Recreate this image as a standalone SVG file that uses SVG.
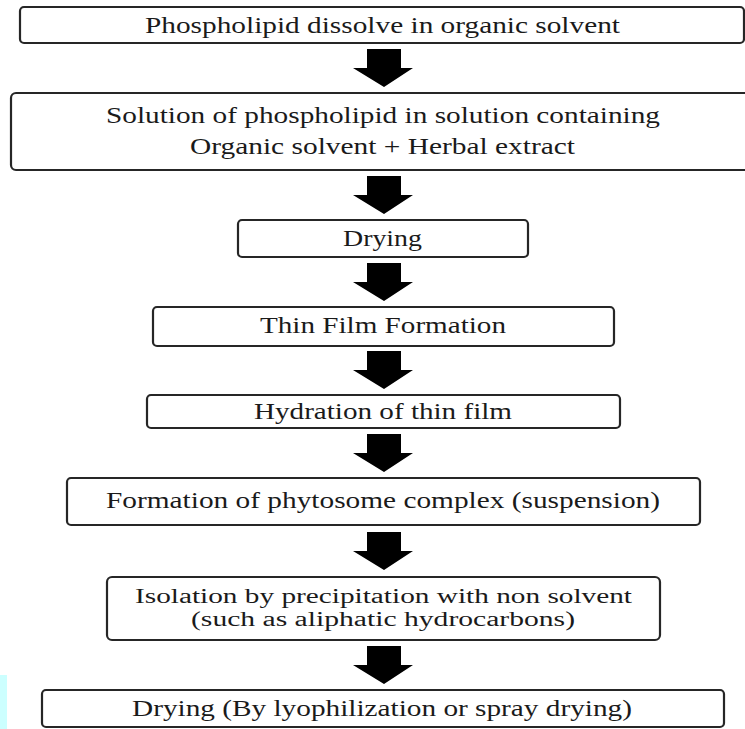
<svg xmlns="http://www.w3.org/2000/svg" width="745" height="729" viewBox="0 0 745 729">
<style>
.box{fill:#fff;stroke:#262626;stroke-width:2.2}
.t{font-family:"Liberation Serif","Times New Roman",serif;font-size:23.5px;fill:#1a1a1a}
.s{font-size:20px}
.arr{fill:#000}
</style>
<defs>
<path id="arrow" d="M-16,0 H18 V19 H30 L1,38 L-30,19 H-16 Z"/>
</defs>
<rect x="0" y="675" width="7" height="54" fill="#ccffff"/>
<g id="n1">
<rect class="box" x="20" y="7" width="724" height="36" rx="4"/>
<text class="t" x="145" y="33" textLength="475" lengthAdjust="spacingAndGlyphs">Phospholipid dissolve in organic solvent</text>
</g>
<g id="n2">
<rect class="box" x="11" y="93" width="745" height="77" rx="5"/>
<text class="t" x="106" y="123" textLength="554" lengthAdjust="spacingAndGlyphs">Solution of phospholipid in solution containing</text>
<text class="t" x="190" y="154" textLength="385" lengthAdjust="spacingAndGlyphs">Organic solvent + Herbal extract</text>
</g>
<g id="n3">
<rect class="box" x="238" y="220" width="290" height="37" rx="4"/>
<text class="t" x="343" y="246" textLength="79" lengthAdjust="spacingAndGlyphs">Drying</text>
</g>
<g id="n4">
<rect class="box" x="153" y="307" width="461" height="39" rx="4"/>
<text class="t" x="260" y="333" textLength="246" lengthAdjust="spacingAndGlyphs">Thin Film Formation</text>
</g>
<g id="n5">
<rect class="box" x="147" y="395" width="473" height="33" rx="4"/>
<text class="t" x="254" y="419" textLength="258" lengthAdjust="spacingAndGlyphs">Hydration of thin film</text>
</g>
<g id="n6">
<rect class="box" x="67" y="478" width="633" height="47" rx="4"/>
<text class="t" x="106" y="508" textLength="554" lengthAdjust="spacingAndGlyphs">Formation of phytosome complex (suspension)</text>
</g>
<g id="n7">
<rect class="box" x="107" y="577" width="553" height="63" rx="5"/>
<text class="t s" x="135" y="603" textLength="497" lengthAdjust="spacingAndGlyphs">Isolation by precipitation with non solvent</text>
<text class="t s" x="191" y="626" textLength="384" lengthAdjust="spacingAndGlyphs">(such as aliphatic hydrocarbons)</text>
</g>
<g id="n8">
<rect class="box" x="42" y="690" width="682" height="37" rx="4"/>
<text class="t" x="132" y="716" textLength="500" lengthAdjust="spacingAndGlyphs">Drying (By lyophilization or spray drying)</text>
</g>
<g id="connectors" class="arr">
<use href="#arrow" x="383" y="49"/>
<use href="#arrow" x="383" y="176"/>
<use href="#arrow" x="383" y="263"/>
<use href="#arrow" x="383" y="351"/>
<use href="#arrow" x="383" y="434"/>
<use href="#arrow" x="383" y="532"/>
<use href="#arrow" x="383" y="646"/>
</g>
</svg>
